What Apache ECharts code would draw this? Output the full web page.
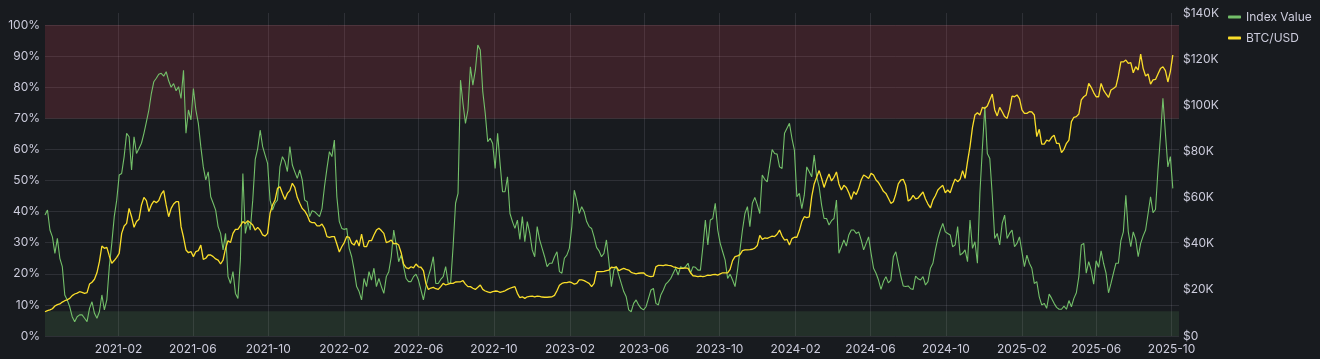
<!DOCTYPE html>
<html>
<head>
<meta charset="utf-8">
<script src="https://cdn.jsdelivr.net/npm/echarts@6/dist/echarts.min.js"></script>
<style>
html,body{margin:0;padding:0;background:#181b1f;}
#chart{width:1320px;height:359px;}
</style>
</head>
<body>
<div id="chart"></div>
<script>
// Sampling: one reading every 4 days starting 2020-10-05
const startDate = [2020, 9, 5];
const stepDays = 4;

const seriesNames = ['Index Value', 'BTC/USD'];

// Index value (%)
const indexValues = [
38.9,40.5,34.1,31.9,26.6,31.4,25.0,22.3,13.2,11.6,
9.4,6.2,4.6,6.2,6.8,6.8,5.7,4.6,8.9,11.0,
7.3,5.7,7.8,13.2,8.4,11.6,22.3,29.8,38.4,43.7,
51.8,52.3,57.7,65.2,64.1,53.4,64.1,58.7,60.3,62.0,
65.2,68.9,72.7,78.0,81.8,82.9,84.2,84.5,83.6,85.0,
82.1,80.0,81.2,78.9,80.2,76.4,85.5,65.2,72.7,69.5,
79.6,72.7,68.4,60.9,54.4,50.2,52.8,44.8,42.7,40.5,
35.2,33.0,27.7,33.0,19.1,16.9,20.7,13.7,12.1,24.4,
52.3,33.0,36.8,34.1,43.7,56.8,60.3,66.2,60.9,58.2,
55.5,43.7,40.5,42.7,43.7,54.4,57.7,56.1,52.9,60.9,
55.0,52.8,50.7,53.4,50.2,43.7,43.2,38.4,40.3,40.0,
39.2,38.4,41.0,48.0,53.9,59.3,57.7,63.0,44.8,36.8,
34.6,34.3,34.6,28.2,25.5,21.2,15.9,14.3,11.6,18.5,
15.9,20.7,18.0,21.8,15.9,18.5,15.9,13.7,19.1,20.7,
25.5,34.1,29.3,23.9,26.0,22.3,18.5,17.5,17.5,19.1,
19.9,18.0,14.8,11.6,15.9,19.1,21.8,25.5,16.9,16.9,
18.2,19.1,22.3,17.1,16.9,28.7,42.7,45.9,82.3,74.8,
68.4,72.7,86.6,80.7,85.5,93.6,92.0,78.6,71.6,62.5,
63.6,61.9,53.9,65.2,55.5,46.4,46.4,51.2,39.4,36.8,
34.6,37.3,31.1,38.4,30.3,36.8,33.0,27.7,25.5,35.2,
30.9,28.2,25.5,22.3,23.4,23.4,25.5,27.1,20.7,20.2,
25.0,26.0,28.2,35.2,46.9,43.7,39.4,41.6,40.0,36.8,
35.2,34.6,31.9,28.5,27.4,25.5,26.6,30.9,23.9,15.9,
21.2,22.3,19.6,16.9,14.3,12.6,8.4,7.8,10.5,11.6,
10.0,8.9,8.4,9.4,12.1,14.8,15.3,10.5,10.0,13.2,
14.8,16.7,17.5,18.5,20.2,21.8,19.6,22.3,21.8,22.3,
23.4,20.2,22.3,22.1,21.2,21.2,28.7,37.3,29.3,37.3,
37.8,42.7,34.1,29.8,27.1,24.4,18.5,19.9,18.0,15.9,
21.2,27.7,34.1,39.4,41.6,35.2,42.7,44.6,42.2,39.4,
51.8,50.4,49.6,54.7,60.0,58.7,58.5,54.4,53.9,65.2,
66.8,68.4,63.6,59.8,44.8,45.9,41.0,45.3,54.4,52.8,
51.2,58.2,51.2,48.0,42.1,37.8,37.8,35.7,37.1,37.8,
43.7,26.6,28.7,30.9,28.9,32.5,34.1,34.1,33.0,33.5,
30.9,27.7,29.8,31.9,26.6,21.8,20.2,18.0,15.0,17.5,
19.1,17.1,18.0,25.5,27.1,23.2,19.3,16.1,15.9,16.1,
15.2,15.0,19.3,18.4,18.0,19.1,16.4,17.5,21.8,23.4,
27.7,31.4,34.1,36.2,33.5,33.0,32.5,28.7,29.3,35.2,
26.0,26.6,27.7,23.9,37.3,28.2,30.3,23.4,45.9,60.3,
73.7,58.7,57.1,45.3,31.4,33.0,29.3,36.2,38.9,31.4,
33.0,34.1,28.7,29.8,31.9,27.1,22.3,26.0,23.4,21.8,
16.9,17.5,12.6,10.0,10.5,8.9,13.5,12.1,10.5,9.2,
8.6,8.6,9.6,8.6,11.4,9.4,12.1,13.9,19.1,29.3,
29.8,20.2,23.9,21.2,16.7,24.2,22.1,27.4,23.4,20.2,
13.9,16.9,20.2,23.4,23.4,30.7,33.5,45.3,33.5,28.7,
33.5,31.1,25.5,29.8,32.2,34.1,39.4,44.8,39.7,40.7,
53.4,64.1,76.5,65.2,54.4,57.7,47.5
];

// BTC/USD price (thousands of dollars)
const btcValues = [
10.5,11.0,11.3,11.8,13.0,13.6,13.9,14.7,15.3,15.7,
16.3,17.5,18.2,18.6,19.2,18.9,18.5,18.8,22.5,23.3,
24.6,27.4,32.2,39.0,38.0,38.4,34.7,31.5,32.7,34.1,
35.8,44.5,47.7,48.8,55.3,51.7,47.1,49.6,50.6,56.8,
60.1,58.7,53.9,56.8,58.5,57.8,58.7,61.5,63.0,56.8,
51.7,55.3,57.2,58.2,58.2,47.4,42.8,37.3,36.1,36.6,
34.4,36.6,37.0,39.4,33.2,33.7,35.1,35.1,34.4,33.4,
32.9,31.2,32.9,38.0,41.3,40.5,44.5,46.2,46.2,47.8,
49.6,48.8,50.0,49.1,48.1,45.9,47.1,45.9,43.8,43.3,
44.5,53.2,56.8,58.9,64.0,64.7,61.8,59.2,61.8,63.0,
66.2,64.4,60.1,57.5,55.3,54.2,52.4,49.7,49.1,49.1,
47.7,47.7,48.5,46.7,43.1,42.8,43.1,43.1,39.9,36.4,
38.7,40.5,43.1,42.8,40.2,39.4,41.6,39.0,44.2,38.7,
38.7,41.3,41.3,43.8,45.9,46.7,45.7,44.5,40.5,40.9,
41.6,39.9,40.2,39.4,36.1,31.2,29.6,29.2,30.0,29.5,
31.2,30.0,29.8,28.3,22.8,20.2,20.8,21.1,20.5,20.2,
21.4,22.8,22.1,22.5,22.8,22.8,23.4,23.5,23.5,24.0,
22.5,21.4,21.4,20.7,20.2,21.1,22.1,20.2,19.5,19.1,
18.8,19.2,19.5,19.4,18.9,19.2,19.6,20.2,20.7,21.1,
21.4,18.5,16.6,17.0,16.3,17.0,17.2,17.3,17.0,17.3,
17.2,16.9,16.8,16.8,16.9,17.0,17.6,19.6,22.0,22.8,
23.1,23.1,23.5,23.1,22.5,22.8,24.3,24.3,24.0,23.4,
22.8,21.4,22.8,27.9,27.9,27.9,28.0,28.3,28.6,29.8,
29.6,30.0,28.3,28.9,29.3,28.9,28.6,27.6,27.2,26.9,
27.2,27.3,27.4,26.4,26.0,25.7,26.0,30.0,30.6,30.6,
30.5,30.8,30.6,30.5,30.0,29.8,29.3,29.3,29.3,29.5,
29.3,27.4,26.1,26.0,25.7,26.0,25.7,26.0,26.4,26.3,
26.6,26.7,26.4,26.9,27.4,27.4,27.4,28.9,32.7,34.4,
34.7,35.3,37.0,37.3,37.3,37.4,37.6,38.1,39.2,43.6,
41.9,42.5,42.3,42.8,43.3,43.1,44.1,45.9,43.3,41.6,
41.9,39.4,42.2,42.8,42.8,45.7,49.6,51.7,51.3,51.6,
60.4,65.9,68.8,71.7,68.3,64.4,67.6,70.2,67.2,68.8,
71.1,65.9,63.3,65.3,64.4,62.1,59.2,62.6,61.3,64.0,
67.6,69.8,69.1,68.3,70.5,69.8,67.6,66.5,64.7,62.7,
61.8,59.7,57.5,58.2,61.5,65.9,67.6,67.9,65.3,58.5,
59.2,61.0,59.4,59.8,61.1,62.4,59.4,57.2,55.5,58.9,
60.8,63.3,64.4,65.3,62.1,63.3,62.1,65.4,68.0,66.9,
67.9,71.7,68.3,75.6,82.1,90.4,95.8,96.8,95.8,99.1,
98.7,99.7,102.3,104.9,98.0,95.4,99.1,97.2,95.1,94.3,
98.2,104.0,103.7,104.5,102.9,98.0,96.5,96.5,97.2,97.1,
95.8,86.4,89.6,83.2,83.2,84.9,84.4,86.1,87.0,83.5,
83.5,79.5,80.9,83.5,84.9,92.9,94.8,95.1,96.2,102.3,
103.7,104.5,109.5,107.8,105.5,103.7,103.7,109.5,106.6,104.9,
103.4,106.6,107.3,108.1,112.7,118.8,118.8,119.6,118.2,118.5,
114.1,116.7,115.3,122.2,116.0,112.7,113.6,109.2,111.0,111.2,
113.6,115.9,116.7,115.0,110.1,114.6,121.8
];

// Axis ticks
const xTickLabels = ['2021-02','2021-06','2021-10','2022-02','2022-06','2022-10','2023-02','2023-06','2023-10','2024-02','2024-06','2024-10','2025-02','2025-06','2025-10'];
const xRange = ['2020-10-05', '2025-10-13'];
const leftTicks = [0,10,20,30,40,50,60,70,80,90,100];
const rightTicks = [0,20,40,60,80,100,120,140];

// Threshold bands on the index (%)
const overheatBand = [70, 100];
const coldBand = [0, 8];

function parseDay(s) { const p = s.split('-').map(Number); return new Date(p[0], p[1]-1, p[2] || 1).getTime(); }
const dates = indexValues.map((_, i) => new Date(startDate[0], startDate[1], startDate[2] + i*stepDays).getTime());
const idxData = indexValues.map((v, i) => [dates[i], v]);
const btcData = btcValues.map((v, i) => [dates[i], v]);
const xTicks = xTickLabels.map(s => parseDay(s));

const textColor = '#ccccdc';
const gridColor = 'rgba(204,204,220,0.12)';
const font = 'Inter';

const chart = echarts.init(document.getElementById('chart'), null, {renderer: 'canvas'});
chart.setOption({
  backgroundColor: '#181b1f',
  animation: false,
  textStyle: {fontFamily: font},
  grid: {left: 45, right: 141, top: 13, bottom: 23, containLabel: false},
  legend: {
    orient: 'vertical', left: 1223, top: 6, itemGap: 9,
    itemWidth: 13, itemHeight: 3, icon: 'roundRect',
    textStyle: {color: textColor, fontSize: 12, fontFamily: font},
    data: seriesNames
  },
  xAxis: {
    type: 'value',
    min: parseDay(xRange[0]), max: parseDay(xRange[1]),
    axisLine: {show: false},
    axisTick: {show: false, customValues: xTicks},
    axisLabel: {
      customValues: xTicks, color: textColor, fontSize: 12, fontFamily: font, margin: 7,
      formatter: v => { const d = new Date(v); return d.getFullYear() + '-' + String(d.getMonth()+1).padStart(2,'0'); }
    },
    splitLine: {show: true, lineStyle: {color: gridColor, width: 1}}
  },
  yAxis: [{
    type: 'value', min: 0, max: 103.9, interval: 10,
    axisLine: {show: false}, axisTick: {show: false},
    axisLabel: {color: textColor, fontSize: 12, fontFamily: font, margin: 5,
      formatter: v => leftTicks.indexOf(Math.round(v*10)/10) >= 0 ? v + '%' : ''},
    splitLine: {show: true, showMaxLine: false, lineStyle: {color: gridColor, width: 1}}
  }, {
    type: 'value', min: 0, max: 140, interval: 20, position: 'right',
    axisLine: {show: false}, axisTick: {show: false},
    axisLabel: {color: textColor, fontSize: 12, fontFamily: font, margin: 4,
      formatter: v => rightTicks.indexOf(v) >= 0 ? (v === 0 ? '$0' : '$' + v + 'K') : ''},
    splitLine: {show: false}
  }],
  series: [{
    name: seriesNames[0], type: 'line', yAxisIndex: 0, data: idxData,
    showSymbol: false, symbol: 'none', color: '#73bf69',
    lineStyle: {width: 1.1, color: '#73bf69'},
    emphasis: {disabled: true},
    markArea: {
      silent: true,
      data: [
        [{yAxis: overheatBand[0], itemStyle: {color: 'rgba(242,73,92,0.16)'}}, {yAxis: overheatBand[1]}],
        [{yAxis: coldBand[0], itemStyle: {color: 'rgba(115,191,105,0.13)'}}, {yAxis: coldBand[1]}]
      ]
    }
  }, {
    name: seriesNames[1], type: 'line', yAxisIndex: 1, data: btcData,
    showSymbol: false, symbol: 'none', color: '#fade2a',
    lineStyle: {width: 1.3, color: '#fade2a'},
    emphasis: {disabled: true}
  }]
});
</script>
</body>
</html>
